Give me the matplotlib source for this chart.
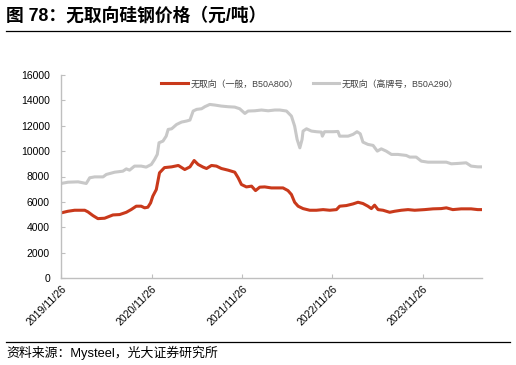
import matplotlib
matplotlib.use("Agg")
from matplotlib import pyplot as plt
import matplotlib.dates as mdates
import pandas as pd

plt.rcParams['font.family'] = ['Liberation Sans', 'Noto Sans CJK SC']

# 无取向（一般，B50A800）
red_dates = ["2019-11-26", "2019-12-24", "2020-01-20", "2020-03-01", "2020-03-14",
             "2020-04-03", "2020-04-23", "2020-05-20", "2020-06-23", "2020-07-20",
             "2020-08-16", "2020-09-05", "2020-09-25", "2020-10-15", "2020-10-29",
             "2020-11-11", "2020-11-22", "2020-12-01", "2020-12-15", "2020-12-28",
             "2021-01-17", "2021-02-15", "2021-03-14", "2021-04-09", "2021-04-30",
             "2021-05-17", "2021-06-02", "2021-06-22", "2021-07-06", "2021-07-26",
             "2021-08-15", "2021-09-04", "2021-10-01", "2021-10-28", "2021-11-11",
             "2021-11-24", "2021-12-14", "2022-01-04", "2022-01-20", "2022-02-06",
             "2022-02-26", "2022-03-25", "2022-04-14", "2022-05-11", "2022-05-31",
             "2022-06-14", "2022-06-27", "2022-07-11", "2022-07-31", "2022-08-27",
             "2022-09-23", "2022-10-20", "2022-11-16", "2022-12-13", "2022-12-26",
             "2023-01-22", "2023-02-18", "2023-03-10", "2023-03-30", "2023-04-19",
             "2023-05-03", "2023-05-16", "2023-05-30", "2023-06-19", "2023-07-16",
             "2023-08-05", "2023-09-01", "2023-09-28", "2023-10-25", "2023-12-04",
             "2024-01-07", "2024-02-09", "2024-03-01", "2024-03-27", "2024-04-30",
             "2024-06-09", "2024-07-06", "2024-07-22"]
red_vals = [5130, 5260, 5340, 5340, 5210,
            4920, 4680, 4710, 4970, 5000,
            5180, 5400, 5660, 5660, 5530,
            5580, 5920, 6450, 6970, 8290,
            8700, 8760, 8870, 8550, 8760,
            9260, 8950, 8740, 8630, 8870,
            8820, 8630, 8500, 8340, 7890,
            7370, 7180, 7240, 6890, 7160,
            7180, 7100, 7100, 7100, 6890,
            6580, 5970, 5660, 5470, 5340,
            5340, 5390, 5340, 5390, 5660,
            5710, 5840, 5970, 5870, 5660,
            5470, 5740, 5390, 5340, 5180,
            5260, 5340, 5390, 5340, 5390,
            5450, 5470, 5530, 5390, 5450,
            5450, 5390, 5390]

# 无取向（高牌号，B50A290）
gray_dates = ["2019-11-26", "2019-12-24", "2020-02-03", "2020-03-07", "2020-03-21",
              "2020-04-10", "2020-05-14", "2020-05-27", "2020-06-30", "2020-08-02",
              "2020-08-16", "2020-08-29", "2020-09-18", "2020-10-15", "2020-11-04",
              "2020-11-25", "2020-12-08", "2020-12-19", "2020-12-26", "2021-01-11",
              "2021-01-24", "2021-02-01", "2021-02-15", "2021-03-07", "2021-03-27",
              "2021-04-16", "2021-04-30", "2021-05-13", "2021-05-27", "2021-06-16",
              "2021-06-29", "2021-07-19", "2021-08-09", "2021-09-04", "2021-10-01",
              "2021-10-28", "2021-11-17", "2021-12-08", "2021-12-21", "2022-01-17",
              "2022-02-13", "2022-03-12", "2022-04-08", "2022-04-28", "2022-05-25",
              "2022-06-14", "2022-06-27", "2022-07-07", "2022-07-18", "2022-07-27",
              "2022-07-31", "2022-08-14", "2022-09-03", "2022-09-23", "2022-10-13",
              "2022-10-17", "2022-10-26", "2022-11-29", "2022-12-19", "2022-12-26",
              "2023-01-29", "2023-02-18", "2023-03-06", "2023-03-19", "2023-03-30",
              "2023-04-19", "2023-05-10", "2023-05-27", "2023-06-12", "2023-07-02",
              "2023-07-23", "2023-08-18", "2023-09-21", "2023-10-05", "2023-10-31",
              "2023-11-21", "2023-12-18", "2024-01-27", "2024-03-01", "2024-03-21",
              "2024-04-17", "2024-05-20", "2024-06-09", "2024-07-06", "2024-07-22"]
gray_vals = [7450, 7550, 7580, 7450, 7900,
             7970, 7970, 8160, 8340, 8420,
             8600, 8500, 8820, 8820, 8740,
             8950, 9340, 9740, 10660, 10790,
             11180, 11710, 11760, 12100, 12290,
             12370, 12450, 13160, 13290, 13340,
             13500, 13680, 13630, 13550, 13500,
             13470, 13340, 12970, 13160, 13180,
             13240, 13180, 13240, 13240, 13160,
             12760, 11970, 10920, 10260, 10920,
             11580, 11760, 11580, 11530, 11500,
             11180, 11530, 11530, 11550, 11180,
             11180, 11320, 11530, 11370, 10710,
             10530, 10450, 10000, 10180, 10000,
             9740, 9740, 9660, 9530, 9530,
             9210, 9130, 9130, 9130, 9000,
             9030, 9080, 8820, 8760, 8760]

tick_dates = ["2019-11-26", "2020-11-26", "2021-11-26", "2022-11-26", "2023-11-26"]
yticks = list(range(0, 16001, 2000))

red = "#C9391B"
gray = "#C8C8C8"

fig = plt.figure(figsize=(5.16, 3.65), dpi=100)
ax = fig.add_axes([61/516, 1-278/365, (482-61)/516, (278-75)/365])

ax.plot(pd.to_datetime(red_dates), red_vals, color=red, linewidth=2.2,
        label="无取向（一般，B50A800）")
ax.plot(pd.to_datetime(gray_dates), gray_vals, color=gray, linewidth=2.2,
        label="无取向（高牌号，B50A290）")

ax.set_xlim(pd.Timestamp("2019-11-26"), pd.Timestamp("2024-07-23"))
ax.set_ylim(0, 16000)
ax.set_yticks(yticks)
ax.set_xticks(pd.to_datetime(tick_dates))
ax.xaxis.set_major_formatter(mdates.DateFormatter("%Y/%m/%d"))
for lab in ax.get_xticklabels():
    lab.set_rotation(45)
    lab.set_ha("right")
    lab.set_rotation_mode("anchor")
ax.tick_params(axis="both", direction="in", length=3, color="#BFBFBF",
               labelsize=7.5, labelcolor="#000000")
ax.tick_params(axis="y", pad=8)
ax.tick_params(axis="x", pad=4)
for s in ["top", "right"]:
    ax.spines[s].set_visible(False)
for s in ["left", "bottom"]:
    ax.spines[s].set_color("#BFBFBF")
    ax.spines[s].set_linewidth(1.0)

fig.legend(loc="center", bbox_to_anchor=(310/516, 1-84/365), ncol=2, frameon=False,
           fontsize=6.4, handlelength=3.0, columnspacing=1.6, handletextpad=0.3,
           labelcolor="#404040")

fig.text(6/516, 1-15.5/365, "图 78：无取向硅钢价格（元/吨）", fontsize=12.8,
         fontweight="bold", va="center", ha="left")
fig.add_artist(plt.Line2D([6/516, 510/516], [1-31/365, 1-31/365], color="black", linewidth=0.9))
fig.add_artist(plt.Line2D([6/516, 510/516], [1-342/365, 1-342/365], color="black", linewidth=0.9))
fig.text(6/516, 1-353/365, "资料来源：Mysteel，光大证券研究所", fontsize=9.3,
         va="center", ha="left")

fig.savefig("out.png", dpi=100)
